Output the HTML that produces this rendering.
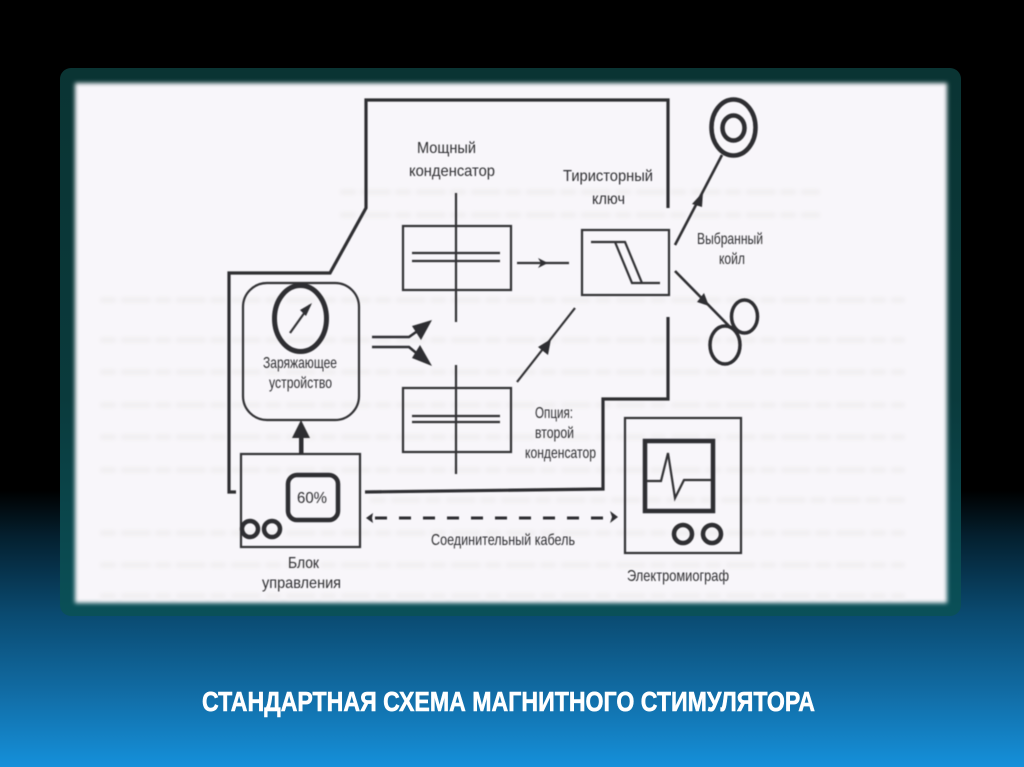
<!DOCTYPE html>
<html lang="ru">
<head>
<meta charset="utf-8">
<title>Стандартная схема магнитного стимулятора</title>
<style>
html,body{margin:0;padding:0;width:1024px;height:767px;overflow:hidden;background:#000}
svg{display:block}
text{font-family:"Liberation Sans",sans-serif;fill:#2e2e30;font-size:16px;text-anchor:start}
</style>
</head>
<body>
<svg xmlns="http://www.w3.org/2000/svg" width="1024" height="767" viewBox="0 0 1024 767">
<defs>
<linearGradient id="bg" x1="0" y1="0" x2="0" y2="1">
<stop offset="0" stop-color="#000"/>
<stop offset="0.64" stop-color="#000"/>
<stop offset="0.70" stop-color="#04202f"/>
<stop offset="0.80" stop-color="#0a4a70"/>
<stop offset="0.90" stop-color="#116ba3"/>
<stop offset="1" stop-color="#1590da"/>
</linearGradient>
<linearGradient id="fr" x1="0" y1="0" x2="0" y2="1">
<stop offset="0" stop-color="#0a3433"/>
<stop offset="0.6" stop-color="#0a3a3c"/>
<stop offset="1" stop-color="#0a5058"/>
</linearGradient>
<filter id="b2" x="-5%" y="-5%" width="110%" height="110%"><feGaussianBlur stdDeviation="2"/></filter>
<filter id="b1" x="-5%" y="-5%" width="110%" height="110%"><feGaussianBlur stdDeviation="0.5"/></filter>
<filter id="b3" x="-5%" y="-5%" width="110%" height="110%"><feGaussianBlur stdDeviation="2.2"/></filter>
</defs>
<rect width="1024" height="767" fill="url(#bg)"/>
<rect x="60" y="68" width="901" height="548" rx="11" fill="url(#fr)"/>
<rect x="75" y="83" width="872" height="520" fill="#f8f6fa" filter="url(#b2)"/>
<g filter="url(#b3)" stroke="#f0eef0" stroke-width="5" fill="none" stroke-dasharray="16 5 30 4">
<path d="M100 300H905M100 340H905M100 372H905M100 405H905M100 437H905M100 470H905M370 500H905M100 533H905M100 565H905M100 596H905"/>
<path d="M340 192H820M340 215H820"/>
</g>
<g filter="url(#b1)">
<g fill="none" stroke="#2e2e30" stroke-width="3.2">
<path d="M668 208V100H366V208L330 273H229V492H236"/>
<path d="M668 317V399H603V489L365 492"/>
</g>
<g fill="none" stroke="#333335" stroke-width="2.2">
<rect x="403" y="226" width="108" height="64"/>
<rect x="403" y="388" width="108" height="64"/>
<path d="M456 193V322M456 365V474"/>
<path d="M412 253H500M412 261H500M412 416H500M412 422H500"/>
<rect x="582" y="230" width="87" height="65"/>
<path d="M591 242H625L642 283H660M615 242L632 283H642"/>
<path d="M517 263H569"/>
<path d="M517 382L575 308"/>
<path d="M290 333L310 305"/>
<path d="M647 481H661L668 453L675 498L684 480H712"/>
<rect x="241" y="454" width="119" height="93"/>
<rect x="625" y="418" width="116" height="135"/>
<rect x="243" y="283" width="116" height="137" rx="24"/>
</g>
<g fill="none" stroke="#2e2e30" stroke-width="2.6">
<path d="M675 245L722 155"/>
<path d="M675 271L730 327"/>
<path d="M372 337H409L426 325"/>
<path d="M372 347H409L426 361"/>
</g>
<g fill="#2e2e30">
<path d="M548 263L538 258L541 263L538 268Z"/>
<path d="M551 339L538 347L548 355Z"/>
<path d="M703 192L692 204L702 207Z"/>
<path d="M709 306L697 302L704 293Z"/>
<path d="M432 320L412 326L421 340Z"/>
<path d="M432 366L412 358L420 345Z"/>
<path d="M312 303L300 310L306 316Z"/>
<path d="M301 420L292 438H310Z"/>
<rect x="299" y="436" width="4.5" height="18"/>
<path d="M366 518L373 513L372 518L373 523Z"/>
<path d="M618 517L610 511L612 517L610 523Z"/>
</g>
<path d="M375 518H606" stroke="#2e2e30" stroke-width="3" stroke-dasharray="12 12" fill="none"/>
<g fill="none" stroke="#2e2e30">
<ellipse cx="733.5" cy="127.5" rx="22" ry="28" stroke-width="4.5"/>
<ellipse cx="733.5" cy="128" rx="11" ry="12.5" stroke-width="4.5"/>
<ellipse cx="744.5" cy="316.5" rx="13" ry="16.5" stroke-width="3.5"/>
<ellipse cx="725" cy="345" rx="15" ry="19" stroke-width="3.5"/>
<ellipse cx="300.5" cy="318.5" rx="26" ry="33" stroke-width="5"/>
<rect x="288" y="475" width="50" height="45" rx="9" stroke-width="4.5"/>
<circle cx="250" cy="529" r="8" stroke-width="4.5"/>
<circle cx="272" cy="529" r="8" stroke-width="4.5"/>
<rect x="645" y="441" width="68" height="70" stroke-width="4.5"/>
<circle cx="683" cy="534" r="9" stroke-width="4.5"/>
<circle cx="712" cy="534" r="9" stroke-width="4.5"/>
</g>
<text x="417" y="153" font-size="17" textLength="59" lengthAdjust="spacingAndGlyphs">Мощный</text>
<text x="409" y="176" font-size="17" textLength="86" lengthAdjust="spacingAndGlyphs">конденсатор</text>
<text x="563" y="181" font-size="17" textLength="90" lengthAdjust="spacingAndGlyphs">Тиристорный</text>
<text x="592" y="204" font-size="17" textLength="33" lengthAdjust="spacingAndGlyphs">ключ</text>
<text x="697" y="244" font-size="15" textLength="66" lengthAdjust="spacingAndGlyphs">Выбранный</text>
<text x="719" y="264" font-size="15" textLength="26" lengthAdjust="spacingAndGlyphs">койл</text>
<text x="263" y="368" font-size="15" textLength="74" lengthAdjust="spacingAndGlyphs">Заряжающее</text>
<text x="269" y="388" font-size="15" textLength="63" lengthAdjust="spacingAndGlyphs">устройство</text>
<text x="288" y="568" font-size="17" textLength="31" lengthAdjust="spacingAndGlyphs">Блок</text>
<text x="262" y="588" font-size="17" textLength="79" lengthAdjust="spacingAndGlyphs">управления</text>
<text x="297" y="503" font-size="18" textLength="30" lengthAdjust="spacingAndGlyphs">60%</text>
<text x="431" y="545" font-size="15" textLength="144" lengthAdjust="spacingAndGlyphs">Соединительный  кабель</text>
<text x="535" y="418" font-size="15" textLength="38" lengthAdjust="spacingAndGlyphs">Опция:</text>
<text x="535" y="438" font-size="15" textLength="39" lengthAdjust="spacingAndGlyphs">второй</text>
<text x="525" y="458" font-size="15" textLength="71" lengthAdjust="spacingAndGlyphs">конденсатор</text>
<text x="627" y="581" font-size="17" textLength="102" lengthAdjust="spacingAndGlyphs">Электромиограф</text>
</g>
<text x="202" y="711" style="fill:#fff;font-weight:bold;font-size:28px;stroke:#fff;stroke-width:0.6" textLength="613" lengthAdjust="spacingAndGlyphs">СТАНДАРТНАЯ СХЕМА МАГНИТНОГО СТИМУЛЯТОРА</text>
</svg>
</body>
</html>
